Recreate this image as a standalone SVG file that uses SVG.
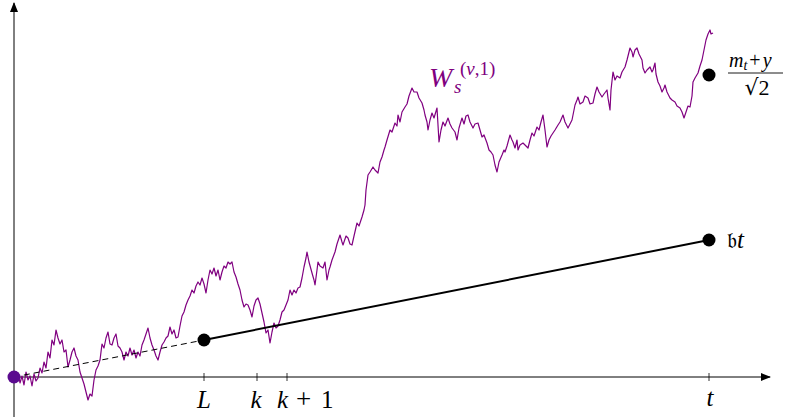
<svg xmlns="http://www.w3.org/2000/svg" width="788" height="419" viewBox="0 0 788 419">
<style>
.ax{stroke:#000;stroke-width:1;fill:none}
.tick{stroke:#000;stroke-width:0.8}
.lbl{font-family:"Liberation Serif","DejaVu Serif",serif;font-style:italic;font-size:25px;fill:#000}
.rm{font-family:"Liberation Serif","DejaVu Serif",serif;font-style:normal}
.dot{fill:#000}
.bm{fill:none;stroke:#800080;stroke-width:1.2;stroke-linejoin:round}
</style>
<defs>
<marker id="ar" viewBox="0 0 10 10" refX="9" refY="5" markerWidth="10" markerHeight="10" markerUnits="userSpaceOnUse" orient="auto">
<path d="M0,1 L10,5 L0,9 Z" fill="#000"/>
</marker>
</defs>
<g id="axes">
<line class="ax" x1="14" y1="417" x2="14" y2="3" marker-end="url(#ar)"/>
<line class="ax" x1="10" y1="377" x2="770" y2="377" marker-end="url(#ar)"/>
<line class="tick" x1="204" y1="373" x2="204" y2="381"/>
<line class="tick" x1="257" y1="373" x2="257" y2="381"/>
<line class="tick" x1="287" y1="373" x2="287" y2="381"/>
<line class="tick" x1="709" y1="373" x2="709" y2="381"/>
<text class="lbl" x="204" y="408" text-anchor="middle">L</text>
<text class="lbl" x="256" y="408" text-anchor="middle">k</text>
<text class="lbl" x="277" y="408">k<tspan class="rm" x="296" style="font-size:27px">+</tspan><tspan class="rm" x="321">1</tspan></text>
<text class="lbl" x="710" y="406" text-anchor="middle">t</text>
</g>
<g id="path-W">
<polyline class="bm" points="14,377 16,380 18,373 20,383 22,376 24,385 26,372 28,380 30,376 32,386 34,374 36,381 38,378 40,368 42,373 44,362 46,368 48,352 50,358 52,340 54,345 56,330 58,338 60,344 62,340 64,352 66,350 68,367 70,360 72,352 74,348 76,356 78,360 80,372 82,378 84,384 86,392 88,400 90,394 92,396 94,380 96,370 98,366 100,360 102,344 104,348 106,338 108,332 110,344 112,345 114,338 116,334 118,346 120,348 122,352 124,360 126,352 128,356 130,348 132,355 134,350 136,358 138,352 140,356 142,345 144,340 146,334 148,328 150,338 152,345 154,350 156,356 158,360 160,352 162,345 164,342 166,338 168,336 170,327 172,334 174,330 176,338 178,337 180,326 182,316 184,312 186,305 188,300 190,296 192,290 194,293 196,286 198,282 200,285 202,278 204,284 206,293 208,280 210,270 212,274 214,268 216,276 218,270 220,280 222,272 224,266 226,268 228,262 230,264 232,262 234,272 236,277 238,284 240,290 242,300 244,307 246,304 248,305 250,310 252,317 254,306 256,300 258,298 260,304 262,313 264,322 266,333 268,330 270,343 272,332 274,323 276,328 278,326 280,320 282,312 284,310 286,305 288,300 290,290 292,295 294,290 296,293 298,288 300,287 302,278 304,267 306,258 307,252 309,262 312,273 314,280 315,285 317,270 318,262 320,266 323,268 325,262 327,280 329,270 330,267 332,260 335,252 337,244 340,235 342,242 343,245 346,236 348,238 350,244 352,245 354,236 357,223 359,226 362,217 364,210 365,205 366,190 368,175 370,172 373,167 375,170 378,173 380,162 382,157 384,150 385,147 387,140 390,130 392,132 395,123 397,126 398,115 400,122 402,112 405,107 407,104 409,96 412,88 414,92 417,92 419,98 422,103 424,110 425,115 427,122 428,130 430,120 432,113 434,118 437,108 438,125 439,142 441,130 443,122 445,126 448,118 450,124 452,128 455,132 457,140 459,128 462,118 464,124 466,116 468,115 470,122 473,128 475,124 478,123 480,130 482,137 484,135 487,143 489,150 491,152 493,155 495,165 497,172 499,162 502,155 504,150 505,152 507,146 510,135 512,140 513,142 515,148 517,140 518,150 520,145 523,143 525,145 528,148 530,140 532,133 534,136 537,127 539,130 541,122 543,115 545,130 547,147 549,140 551,136 553,133 555,130 558,125 560,122 563,115 565,122 568,128 570,124 572,120 574,110 575,105 577,100 578,97 580,104 583,102 585,96 588,98 590,104 593,103 595,94 597,87 599,92 602,97 604,94 607,90 608,98 610,110 611,90 613,72 615,80 617,76 620,78 622,72 625,67 627,60 630,48 632,52 633,57 635,50 637,48 639,54 642,60 643,68 645,73 647,70 650,67 652,72 653,70 655,63 656,74 658,82 660,86 662,92 664,88 665,85 667,92 670,98 672,100 675,102 677,106 680,108 682,112 684,118 686,112 688,106 690,107 692,96 693,82 695,78 698,73 700,66 702,60 704,50 706,40 708,34 710,30 711,34 713,33"/>
</g>
<g id="connectors">
<line x1="14" y1="377" x2="204" y2="340" stroke="#000" stroke-width="1" stroke-dasharray="6,4"/>
<line x1="204" y1="340" x2="709" y2="240" stroke="#000" stroke-width="2"/>
</g>
<g id="node-origin">
<circle cx="14" cy="377" r="6.5" fill="#5b0b8f"/>
</g>
<g id="node-L">
<circle class="dot" cx="204" cy="340" r="6.5"/>
</g>
<g id="node-bt">
<circle class="dot" cx="709" cy="240" r="6.5"/>
<text x="727" y="248" font-family="'DejaVu Serif','DejaVu Sans',serif" font-size="22" fill="#000">𝔟<tspan font-family="'Liberation Serif',serif" font-style="italic" font-size="25">t</tspan></text>
</g>
<g id="node-m">
<circle class="dot" cx="709" cy="75" r="6.5"/>
<text class="lbl" x="729" y="67" style="font-size:20px">m<tspan style="font-size:14px" dy="3">t</tspan><tspan class="rm" dy="-3" dx="2">+</tspan><tspan dx="2">y</tspan></text>
<line x1="728" y1="73" x2="783" y2="73" stroke="#000" stroke-width="0.9"/>
<text x="757" y="95" font-size="22" text-anchor="middle" fill="#000" font-family="'DejaVu Serif',serif">√<tspan font-family="'Liberation Serif',serif">2</tspan></text>
</g>
<g id="label-W">
<text class="lbl" x="429" y="87" style="font-size:28px;fill:#800080">W<tspan style="font-size:19px" x="454" y="93">s</tspan><tspan class="rm" style="font-size:19px" x="460" y="75">(</tspan><tspan style="font-size:19px">v</tspan><tspan class="rm" style="font-size:19px">,1)</tspan></text>
</g>
</svg>
